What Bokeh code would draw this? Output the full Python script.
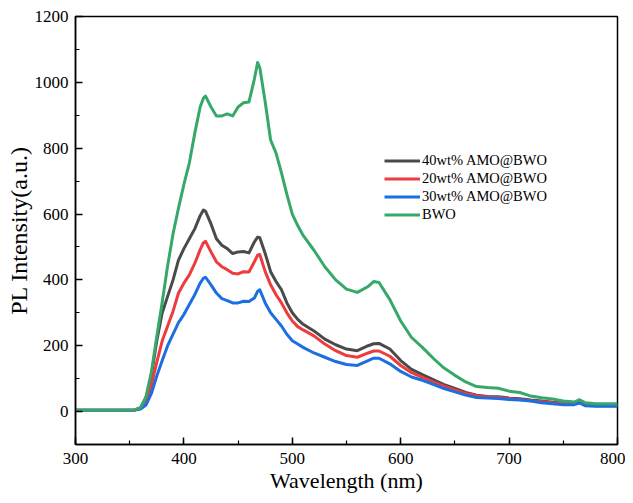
from bokeh.plotting import figure
from bokeh.models import Range1d, Legend, LegendItem, SingleIntervalTicker
from bokeh.embed import file_html
from bokeh.resources import INLINE

wavelength = [300, 320, 340, 355, 360, 365, 370, 375, 380, 385, 390, 395, 400, 405, 410, 415, 418, 420,
              425, 430, 435, 440, 445, 450, 455, 460, 465, 468, 470, 475, 480, 485, 490, 495, 500, 505,
              510, 520, 530, 540, 550, 560, 570, 575, 580, 590, 600, 610, 620, 630, 640, 650, 660, 670,
              680, 690, 700, 710, 720, 730, 740, 750, 760, 765, 770, 780, 790, 800]

bwo = [4, 4, 4, 5, 12, 45, 120, 228, 333, 443, 540, 618, 690, 755, 845, 925, 952, 958,
       925, 898, 898, 904, 898, 925, 938, 940, 1010, 1060, 1045, 940, 825, 785, 725, 660, 600, 565,
       535, 490, 440, 400, 372, 362, 380, 395, 392, 340, 275, 225, 195, 162, 132, 110, 90, 76,
       73, 71, 62, 58, 47, 42, 38, 32, 29, 36, 27, 24, 24, 24]

amo40 = [4, 4, 4, 5, 12, 40, 110, 215, 300, 350, 400, 460, 495, 525, 555, 595, 612, 608,
         570, 525, 505, 495, 480, 485, 486, 482, 515, 530, 528, 480, 425, 395, 370, 330, 300, 280,
         265, 245, 220, 203, 190, 185, 200, 206, 207, 190, 155, 128, 112, 97, 82, 70, 58, 50,
         46, 45, 41, 39, 35, 32, 28, 26, 25, 30, 22, 20, 19, 19]

amo20 = [4, 4, 4, 5, 10, 30, 80, 150, 215, 260, 305, 360, 390, 415, 450, 492, 513, 517,
         485, 455, 440, 431, 420, 418, 425, 424, 455, 475, 477, 425, 385, 355, 330, 300, 275, 258,
         248, 230, 205, 185, 170, 165, 178, 184, 184, 168, 140, 118, 104, 90, 77, 66, 55, 48,
         44, 43, 39, 37, 33, 30, 27, 25, 23, 28, 20, 18, 18, 18]

amo30 = [4, 4, 4, 5, 8, 20, 55, 108, 155, 200, 235, 270, 295, 325, 355, 390, 405, 408,
         385, 360, 343, 337, 330, 330, 335, 334, 345, 365, 370, 330, 300, 280, 260, 235, 215, 205,
         195, 178, 165, 152, 143, 140, 155, 162, 162, 145, 122, 105, 95, 83, 70, 60, 50, 43,
         41, 40, 37, 35, 32, 27, 24, 21, 21, 26, 18, 16, 16, 16]

series_labels = ["40wt% AMO@BWO", "20wt% AMO@BWO", "30wt% AMO@BWO", "BWO"]
series_values = [amo40, amo20, amo30, bwo]
series_colors = ["#4a4a4a", "#ee3b3e", "#1c6fe0", "#36a96a"]

x_title = "Wavelength (nm)"
y_title = "PL Intensity(a.u.)"

FONT = "Liberation Serif"

p = figure(width=625, height=495, output_backend="svg", toolbar_location=None,
           x_range=Range1d(300, 800), y_range=Range1d(-100, 1200),
           min_border_left=75, min_border_right=8, min_border_top=16, min_border_bottom=45)
p.grid.visible = False
p.outline_line_color = "black"
p.outline_line_width = 1.5
p.background_fill_color = "white"
p.border_fill_color = "white"

p.xaxis.ticker = SingleIntervalTicker(interval=100, num_minor_ticks=2)
p.yaxis.ticker = SingleIntervalTicker(interval=200, num_minor_ticks=2)

for ax in (p.xaxis[0], p.yaxis[0]):
    ax.axis_line_width = 1.5
    ax.axis_line_color = "black"
    ax.major_tick_in = 7
    ax.major_tick_out = 0
    ax.minor_tick_in = 4
    ax.minor_tick_out = 0
    ax.major_tick_line_width = 1.5
    ax.minor_tick_line_width = 1.2
    ax.major_tick_line_color = "black"
    ax.minor_tick_line_color = "black"
    ax.major_label_text_font = FONT
    ax.major_label_text_font_size = "17px"
    ax.major_label_text_color = "black"
    ax.axis_label_text_font = FONT
    ax.axis_label_text_font_style = "normal"
    ax.axis_label_text_color = "black"

p.xaxis.axis_label = x_title
p.yaxis.axis_label = y_title
p.xaxis.axis_label_text_font_size = "22px"
p.yaxis.axis_label_text_font_size = "24px"
p.xaxis.major_label_standoff = 8
p.yaxis.major_label_standoff = 7
p.xaxis.axis_label_standoff = 1
p.yaxis.axis_label_standoff = 0

items = []
for lab, vals, col in zip(series_labels, series_values, series_colors):
    r = p.line(wavelength, vals, line_color=col, line_width=3, line_join="round")
    items.append(LegendItem(label=lab, renderers=[r]))

legend = Legend(items=items, location=(309, 221))
legend.border_line_color = None
legend.background_fill_alpha = 0
legend.label_text_font = FONT
legend.label_text_font_size = "14.5px"
legend.label_text_color = "black"
legend.glyph_width = 36
legend.glyph_height = 17
legend.label_height = 17
legend.label_standoff = 2
legend.spacing = 1
legend.padding = 0
legend.margin = 0
p.add_layout(legend, "center")

open("out.html", "w").write(file_html(p, INLINE))
